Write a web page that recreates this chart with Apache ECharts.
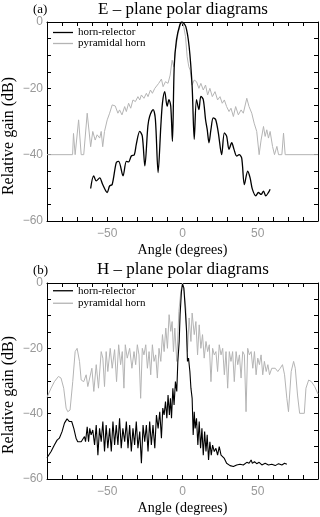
<!DOCTYPE html>
<html>
<head>
<meta charset="utf-8">
<script src="https://cdn.jsdelivr.net/npm/echarts@6/dist/echarts.min.js"></script>
<style>
  html, body { margin: 0; padding: 0; background: #fff; }
  #main { width: 320px; height: 517px; }
</style>
</head>
<body>
<div id="main"></div>
<script>
// E-plane: [angle (deg), relative gain (dB)]
const eHornReflector = [
  [-61, -50.2], [-59, -46.4], [-57.3, -47.9], [-55, -47], [-53, -49], [-50, -51.4],
  [-48.4, -49.4], [-46.7, -49], [-44, -42.4], [-42.4, -42], [-39.5, -46.4], [-37.3, -42],
  [-35.8, -42.2], [-34, -40.4], [-32, -40], [-30.7, -36.9], [-28.4, -33], [-26.7, -34.4],
  [-25, -43.4], [-23, -31.4], [-21.8, -28.4], [-19.5, -26.4], [-18, -29.4], [-16.2, -45.4],
  [-14.4, -31.4], [-13.3, -24.4], [-11.8, -21], [-10.2, -25.4], [-9, -23.4], [-7.8, -25.4],
  [-6.7, -36], [-5.5, -13.4], [-4, -5.4], [-1.8, -0.9], [-0.4, 0], [2.2, -1.4], [4.4, -7.4],
  [6.4, -19.4], [7.8, -35.4], [9.3, -23.4], [10.9, -26.4], [12.2, -22.4], [13.8, -23.4],
  [15.3, -29.4], [16.4, -32.4], [17.6, -36.4], [18.9, -32.4], [20.4, -28.9], [22, -29.4],
  [23.8, -33.4], [26, -40], [27.8, -33.4], [29.3, -34.4], [30.9, -38.4], [32.7, -36.4],
  [34.2, -38.4], [36, -40.4], [37.6, -40], [39.3, -41], [41.1, -49], [43.3, -45], [44.9, -47],
  [46.4, -50.4], [48.7, -52.4], [50.4, -51.4], [52.2, -52], [53.8, -51], [55.3, -52.4],
  [57.1, -51.4], [58.2, -50.4]
];
const ePyramidal = [
  [-90, -40], [-73, -40], [-72.4, -33.6], [-71.3, -40], [-69, -29.5], [-67.3, -40], [-65.6, -40],
  [-63.3, -27.5], [-61, -37.6], [-59.6, -33], [-58, -35.6], [-56.7, -34], [-55, -35], [-54, -33],
  [-53, -37.6], [-51.8, -33], [-50, -29.5], [-48.4, -27.5], [-46.7, -25], [-44.7, -25.3],
  [-42.9, -27.5], [-41.8, -26.5], [-40.2, -28], [-38.4, -25.5], [-37.3, -27], [-35.8, -24.5],
  [-34.4, -26], [-32.9, -23.5], [-31.3, -24], [-29.6, -22.5], [-28.4, -23.5], [-27.3, -22],
  [-25.6, -23], [-24, -21.5], [-22.9, -22.5], [-21.3, -20.5], [-20, -21.5], [-18.4, -20],
  [-17.3, -20.5], [-15.8, -18.5], [-14, -17.2], [-12.9, -19.5], [-11.3, -18], [-9.6, -18.5],
  [-8.2, -16], [-6.9, -11.5], [-5.8, -13.5], [-4.7, -8.4], [-2.9, -3.4], [-1.1, -0.4],
  [0.4, -0.4], [2, -4.4], [3.1, -10.5], [4.2, -13.5], [5.1, -14.5], [6.4, -19], [7.8, -17.5],
  [9.3, -18], [10.9, -20], [12.2, -18.5], [13.8, -20.5], [15.3, -19], [16.7, -22], [18.2, -20],
  [19.8, -22.5], [21.6, -21], [23.3, -23.5], [24.9, -22.5], [26.4, -24.5], [27.8, -23.5],
  [29.3, -25.5], [30.9, -27], [32.2, -26], [33.8, -28.5], [35.3, -25.5], [37.1, -28],
  [38.9, -26.5], [40.4, -27.5], [42.7, -23], [44.2, -25.5], [46, -27.5], [47.6, -30.5],
  [49.3, -33], [50.9, -40], [52.2, -35.6], [53.8, -31.5], [54.9, -34.5], [56, -32.5],
  [57.1, -35], [58.2, -33], [59.8, -37.5], [61.1, -40], [62.7, -37.5], [63.8, -40], [66, -40],
  [67.1, -33.5], [68.2, -40], [90, -40]
];

// H-plane
const hHornReflector = [
  [-90, -53.5], [-87.3, -51.6], [-85.1, -49.6], [-83.3, -48.1], [-81.8, -47.5], [-80, -45.5],
  [-78.4, -42.9], [-76.7, -41.6], [-75.1, -42.4], [-73.6, -42.4], [-72.2, -44.5], [-70.7, -47.5],
  [-69.6, -48.6], [-67.3, -48.6], [-66.2, -48.1], [-65.1, -47], [-64.4, -48.6], [-63.3, -44],
  [-62.4, -48.6], [-61.6, -44.5], [-60.7, -46.5], [-59.6, -45], [-58.4, -49.6], [-57.3, -43.5],
  [-56.2, -52.7], [-55.1, -44.5], [-54, -48.6], [-52.9, -42.4], [-51.8, -51.6], [-50.7, -43.5],
  [-49.6, -50.6], [-48.4, -44.5], [-47.3, -51.6], [-46.2, -42.4], [-45.1, -49.6], [-44, -43.5],
  [-42.9, -49.6], [-41.8, -41.4], [-40.7, -50.6], [-39.6, -44.5], [-38.4, -48.6], [-37.3, -42.4],
  [-36.2, -50.6], [-35.1, -43.5], [-34, -51.6], [-32.9, -44.5], [-31.8, -49.6], [-30.7, -42.4],
  [-29.6, -50.6], [-28.4, -45.5], [-27.3, -55.2], [-26.2, -43.5], [-25.1, -48.6], [-24, -43.5],
  [-22.9, -51.6], [-21.8, -42.4], [-20.7, -49.6], [-19.6, -43.5], [-18.4, -50.6], [-17.3, -40.4],
  [-16.2, -44.5], [-15.1, -39.4], [-14, -47.5], [-13.1, -38.3], [-12.2, -40.4], [-11.3, -36.3],
  [-10.4, -41.4], [-9.6, -34.3], [-8.7, -40.4], [-8, -35.3], [-7.3, -41.4], [-6.4, -32.2],
  [-5.6, -37.3], [-4.7, -30.2], [-3.8, -33.2], [-3.1, -24], [-2.2, -17.9], [-1.6, -9.7],
  [-0.7, -2.6], [0, -0.3], [0.9, -1.5], [1.8, -7.7], [2.7, -14.8], [3.3, -24], [4, -23],
  [4.9, -27.1], [5.6, -32.2], [6.4, -35.3], [7.1, -46.5], [7.8, -39.4], [8.4, -44.5],
  [9.3, -41.4], [10.2, -49.6], [11.1, -42.4], [12, -50.6], [12.9, -44.5], [13.8, -52.7],
  [14.7, -45.5], [15.6, -51.6], [16.4, -46.5], [17.3, -54.2], [18.2, -48.6], [19.1, -52.7],
  [20, -49.6], [21.1, -51.6], [22.2, -50.6], [23.3, -52.7], [24.4, -50.1], [25.6, -52.7],
  [26.7, -52.1], [27.8, -53.7], [29.3, -55.2], [31.6, -55.9], [33.8, -56.2], [36, -55.7],
  [38.2, -55.5], [40.4, -55.7], [42.7, -54.9], [44.2, -55.2], [45.6, -54.2], [46.4, -55.2],
  [47.8, -54.7], [49.3, -55.3], [50.9, -54.9], [52.7, -55.7], [54.9, -55.2], [57.1, -55.7],
  [59.3, -55.5], [61.6, -55.9], [63.8, -55.3], [66, -55.7], [67.8, -55.2], [69.3, -55.5]
];
const hPyramidal = [
  [-90, -35], [-87.3, -32.2], [-85.1, -30.2], [-82.4, -28.6], [-80.7, -29.1], [-78.9, -32.2],
  [-77.3, -38.3], [-76.2, -39.4], [-74.7, -38.9], [-74, -39.4], [-72.9, -30.2], [-71.3, -21],
  [-70, -20], [-68.4, -24], [-67.3, -29.7], [-65.6, -30.2], [-64, -28.1], [-62.9, -31.7],
  [-61.8, -32.2], [-60.2, -26.1], [-58.9, -33.2], [-57.3, -25], [-55.8, -32.2], [-54, -21],
  [-52.9, -23], [-51.8, -31.7], [-50.7, -21], [-49.6, -27.1], [-48, -20], [-46.7, -26.1],
  [-45.1, -20.4], [-43.8, -30.2], [-42.4, -18.9], [-41.1, -25], [-40, -21], [-38.9, -32.2],
  [-38, -18.9], [-36.7, -23], [-35.1, -20], [-33.6, -26.1], [-32.2, -21], [-31.1, -25],
  [-30, -18.9], [-28.9, -22], [-27.8, -35.3], [-26.7, -20], [-25.6, -22], [-24.4, -18.9],
  [-23.3, -26.1], [-22.2, -21], [-21.1, -28.1], [-20, -18.9], [-18.9, -24], [-17.8, -22],
  [-16.7, -29.1], [-15.6, -20], [-14.4, -24], [-13.3, -15.8], [-12.2, -21], [-11.1, -13.8],
  [-10, -20], [-8.9, -9.7], [-7.8, -14.8], [-6.9, -11.8], [-6, -21], [-5.1, -13.8],
  [-3.8, -24], [-2.4, -8.7], [-1.1, -2.6], [0, 0], [1.1, -2.6], [2.2, -7.7], [3.3, -21],
  [4.4, -10.7], [5.6, -17.9], [6.4, -9.2], [7.8, -15.8], [8.9, -11.8], [10, -22], [11.1, -12.8],
  [12.2, -20], [13.3, -15.8], [14.4, -23], [15.6, -17.9], [16.7, -21], [17.8, -18.9],
  [18.9, -30.2], [20, -20], [21.1, -22], [22.2, -21], [23.3, -27.1], [24.4, -18.9], [25.6, -22],
  [26.7, -20], [27.8, -28.1], [28.9, -21], [30, -32.2], [31.1, -21], [32.2, -24], [33.3, -21],
  [34.4, -30.2], [35.6, -21], [36.7, -25], [37.8, -22], [38.9, -29.1], [40, -21], [41.1, -22],
  [42.2, -39.4], [43.3, -20], [44.4, -22], [45.6, -21], [46.7, -26.1], [47.8, -21],
  [48.9, -28.1], [50, -23], [51.1, -25], [52.2, -22], [53.3, -28.1], [54.4, -24], [55.6, -27.1],
  [56.7, -25], [57.8, -28.1], [59.3, -26.1], [61.6, -26.1], [63.3, -27.1], [64.9, -26.1],
  [66.4, -25], [67.8, -28.1], [69.3, -35.3], [70.4, -39.4], [72.2, -27.1], [73.8, -24],
  [74.9, -26.1], [76.4, -34.3], [77.8, -39.9], [80.9, -39.9], [82, -32.2], [83.8, -29.7],
  [85.6, -30.2], [87.8, -31.7], [90, -34]
];

const panelTitles = ['E \u2013 plane polar diagrams', 'H \u2013 plane polar diagrams'];
const panelTags = ['(a)', '(b)'];
const seriesNames = ['horn-relector', 'pyramidal horn'];
const yTitle = 'Relative gain (dB)';

const serif = 'Liberation Serif';
const minus = v => (v < 0 ? '\u2212' + Math.abs(v) : String(v));

const grids = [
  { left: 47, top: 22, width: 271, height: 199, outerBoundsMode: 'none' },
  { left: 47, top: 283, width: 271, height: 196, outerBoundsMode: 'none' }
];

function xAxes(gi) {
  const base = {
    gridIndex: gi, type: 'value', min: -90, max: 90, interval: 10,
    axisLine: { show: true, onZero: false, lineStyle: { color: '#000', width: 1 } },
    axisTick: { inside: true, length: 4, lineStyle: { color: '#000' } },
    splitLine: { show: false }
  };
  return [
    Object.assign({}, base, {
      position: 'bottom',
      axisLabel: { color: '#999', fontFamily: 'Liberation Sans', fontSize: 12, margin: 7,
        formatter: v => (v % 50 === 0 ? minus(v) : '') },
      name: 'Angle (degrees)', nameLocation: 'middle', nameGap: 22,
      nameTextStyle: { fontFamily: serif, fontSize: 14, color: '#000' }
    }),
    Object.assign({}, base, { position: 'top', axisLabel: { show: false } })
  ];
}

function yAxes(gi) {
  const base = {
    gridIndex: gi, type: 'value', min: -60, max: 0, interval: 5,
    axisLine: { show: true, onZero: false, lineStyle: { color: '#000', width: 1 } },
    axisTick: { inside: true, length: 4, lineStyle: { color: '#000' } },
    splitLine: { show: false }
  };
  return [
    Object.assign({}, base, {
      position: 'left',
      axisLabel: { color: '#999', fontFamily: 'Liberation Sans', fontSize: 12, margin: 4,
        formatter: v => (v % 20 === 0 ? minus(v) : '') }
    }),
    Object.assign({}, base, { position: 'right', axisLabel: { show: false } })
  ];
}

function lineSeries(name, data, axisBase, color, width, smooth) {
  return {
    name: name, type: 'line', data: data, symbol: 'none', smooth: smooth || false,
    xAxisIndex: axisBase, yAxisIndex: axisBase,
    lineStyle: { color: color, width: width }, itemStyle: { color: color },
    animation: false, z: color === '#000' ? 3 : 2
  };
}

function legendFor(top, rowH) {
  return {
    data: [
      { name: seriesNames[0], icon: 'rect', itemStyle: { color: '#000' } },
      { name: seriesNames[1], icon: 'rect', itemStyle: { color: '#b4b4b4' } }
    ],
    orient: 'vertical', left: 48, top: top, itemWidth: 20, itemHeight: 1.3,
    itemGap: 0, selectedMode: false,
    textStyle: { fontFamily: serif, fontSize: 11, color: '#000', lineHeight: rowH }
  };
}

function yName(cy) {
  return {
    type: 'text', x: 9, y: cy, rotation: Math.PI / 2,
    style: { text: yTitle, font: '16px "Liberation Serif"', fill: '#000', align: 'center', verticalAlign: 'middle' }
  };
}

const chart = echarts.init(document.getElementById('main'));

chart.setOption({
  animation: false,
  grid: grids,
  xAxis: xAxes(0).concat(xAxes(1)),
  yAxis: yAxes(0).concat(yAxes(1)),
  legend: [legendFor(22, 11), legendFor(279.5, 12.5)],
  graphic: [
    { type: 'text', left: 33, top: 3, style: { text: panelTags[0], font: '13px "Liberation Serif"', fill: '#000' } },
    { type: 'text', x: 183, y: 10, style: { text: panelTitles[0], font: '17px "Liberation Serif"', fill: '#000', align: 'center', verticalAlign: 'middle' } },
    { type: 'text', left: 33, top: 264, style: { text: panelTags[1], font: '13px "Liberation Serif"', fill: '#000' } },
    { type: 'text', x: 183, y: 270, style: { text: panelTitles[1], font: '17px "Liberation Serif"', fill: '#000', align: 'center', verticalAlign: 'middle' } },
    yName(136),
    yName(395)
  ],
  series: [
    lineSeries(seriesNames[1], ePyramidal, 0, '#b4b4b4', 1),
    lineSeries(seriesNames[0], eHornReflector, 0, '#000', 1.3, 0.3),
    lineSeries(seriesNames[1], hPyramidal, 2, '#b4b4b4', 1),
    lineSeries(seriesNames[0], hHornReflector, 2, '#000', 1.1)
  ]
});
</script>
</body>
</html>
